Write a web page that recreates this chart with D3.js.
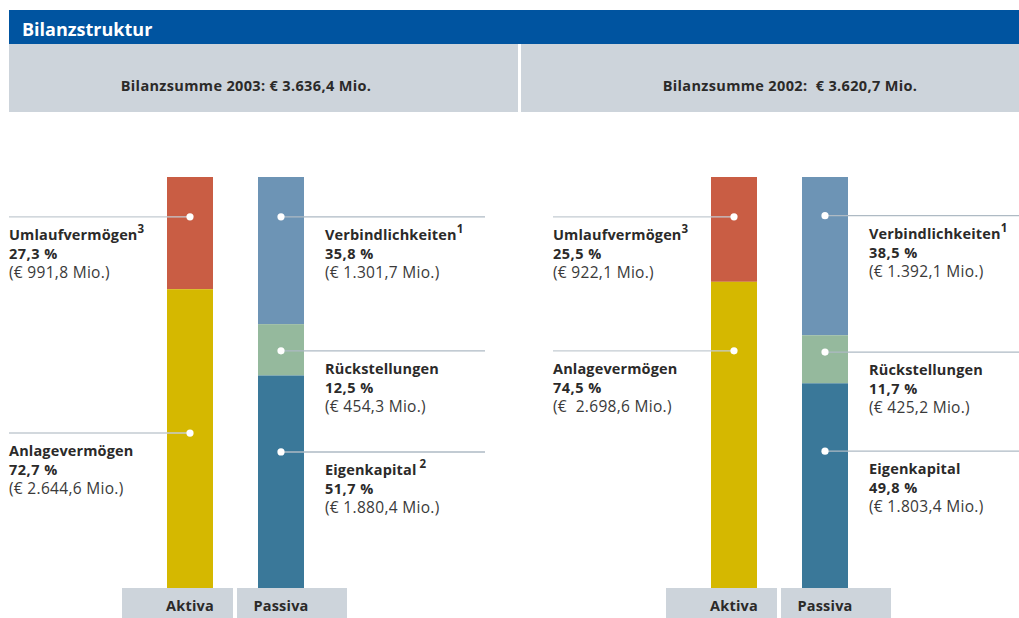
<!DOCTYPE html>
<html><head><meta charset="utf-8">
<script src="https://cdn.jsdelivr.net/npm/d3@7"></script>
<style>
html,body{margin:0;padding:0;background:#fff;}
svg text{font-family:"Open Sans",sans-serif;white-space:pre;}
</style></head>
<body><svg id="c" width="1019" height="618"></svg>
<script>
// ---- data ----
const title = "Bilanzstruktur";
const years = ["2003", "2002"];
const totalLabels = ["Bilanzsumme 2003: € 3.636,4 Mio.", "Bilanzsumme 2002:  € 3.620,7 Mio."];
const sideLabels = ["Aktiva", "Passiva"];

const aktivaNames = ["Umlaufvermögen", "Anlagevermögen"];
const passivaNames = ["Verbindlichkeiten", "Rückstellungen", "Eigenkapital"];

const aktivaPct2003 = [27.3, 72.7];
const aktivaVal2003 = ["€ 991,8 Mio.", "€ 2.644,6 Mio."];
const aktivaNote2003 = ["3", ""];
const passivaPct2003 = [35.8, 12.5, 51.7];
const passivaVal2003 = ["€ 1.301,7 Mio.", "€ 454,3 Mio.", "€ 1.880,4 Mio."];
const passivaNote2003 = ["1", "", " 2"];

const aktivaPct2002 = [25.5, 74.5];
const aktivaVal2002 = ["€ 922,1 Mio.", "€  2.698,6 Mio."];
const aktivaNote2002 = ["3", ""];
const passivaPct2002 = [38.5, 11.7, 49.8];
const passivaVal2002 = ["€ 1.392,1 Mio.", "€ 425,2 Mio.", "€ 1.803,4 Mio."];
const passivaNote2002 = ["1", "", ""];

// leader-dot anchor, in percent measured from top of the column
const aktivaDot2003 = [9.7, 62.3];
const passivaDot2003 = [9.7, 42.3, 66.9];
const aktivaDot2002 = [9.7, 42.3];
const passivaDot2002 = [9.4, 42.6, 66.7];

const aktivaColors = ["#C95D44", "#D5B800"];
const passivaColors = ["#6D94B5", "#95B99D", "#3A7899"];

// ---- layout ----
const svg = d3.select("#c");
const W = 1019, H = 618;
const panels = [
  {pct: [aktivaPct2003, passivaPct2003], val: [aktivaVal2003, passivaVal2003], note: [aktivaNote2003, passivaNote2003], dot: [aktivaDot2003, passivaDot2003]},
  {pct: [aktivaPct2002, passivaPct2002], val: [aktivaVal2002, passivaVal2002], note: [aktivaNote2002, passivaNote2002], dot: [aktivaDot2002, passivaDot2002]}
];
const panelOffset = [0, 544];
const y = d3.scaleLinear().domain([0, 100]).range([177, 588]); // percent from top
const barX = [167, 258], barW = 46;
const textCol = "#2b2a29";
const loc = d3.formatLocale({decimal: ",", thousands: ".", grouping: [3], currency: ["€", ""]});
const fmtPct = d => loc.format(".1f")(d) + " %";

// header
svg.append("rect").attr("x", 9).attr("y", 10).attr("width", W - 9).attr("height", 34).attr("fill", "#0054A0");
svg.append("text").attr("x", 22).attr("y", 36).attr("fill", "#fff").attr("font-size", 18).attr("font-weight", 700).text(title);

const subRects = [[9, 509], [521, 498]];
const subTextX = [246, 790];
subRects.forEach((r, i) => {
  svg.append("rect").attr("x", r[0]).attr("y", 44).attr("width", r[1]).attr("height", 68).attr("fill", "#CDD4DB");
  svg.append("text").attr("x", subTextX[i]).attr("y", 91).attr("text-anchor", "middle")
    .attr("font-size", 14.5).attr("font-weight", 700).attr("letter-spacing", 0.35).attr("fill", textCol).text(totalLabels[i]);
});

panels.forEach((p, pi) => {
  const off = panelOffset[pi];
  const g = svg.append("g").attr("transform", `translate(${off},0)`);
  [0, 1].forEach(side => {
    const pcts = p.pct[side];
    const colors = side === 0 ? aktivaColors : passivaColors;
    const stack = d3.cumsum(pcts);
    const segs = pcts.map((v, i) => ({v, y0: i === 0 ? 0 : stack[i - 1], y1: stack[i], c: colors[i]}));
    g.selectAll(null).data(segs).enter().append("rect")
      .attr("x", barX[side]).attr("width", barW)
      .attr("y", d => y(d.y0)).attr("height", d => y(Math.min(d.y1, 100)) - y(d.y0))
      .attr("fill", d => d.c);
  });
  // leader lines, dots, labels
  [0, 1].forEach(side => {
    const pcts = p.pct[side];
    const names = side === 0 ? aktivaNames : passivaNames;
    const cx = barX[side] + barW / 2;
    pcts.forEach((v, i) => {
      const dy = y(p.dot[side][i]);
      const x1 = side === 0 ? 9 : cx, x2 = side === 0 ? cx : 485;
      g.append("line").attr("x1", x1).attr("x2", x2).attr("y1", dy).attr("y2", dy)
        .attr("stroke", side === 0 ? "#C3CBD2" : "#AEBAC4").attr("stroke-width", 1.4);
      g.append("circle").attr("cx", cx).attr("cy", dy).attr("r", 3.6).attr("fill", "#fff");
      const tx = side === 0 ? 9 : 325;
      const t1 = g.append("text").attr("x", tx).attr("y", dy + 23).attr("font-size", 14.5).attr("font-weight", 700).attr("letter-spacing", 0.15).attr("fill", textCol);
      t1.append("tspan").text(names[i]);
      if (p.note[side][i]) t1.append("tspan").attr("dy", -7).attr("font-size", 11.5).text(p.note[side][i]);
      g.append("text").attr("x", tx).attr("y", dy + 42).attr("font-size", 14.5).attr("font-weight", 700).attr("letter-spacing", 0.5).attr("fill", textCol).text(fmtPct(v));
      g.append("text").attr("x", tx).attr("y", dy + 61).attr("font-size", 15.5).attr("letter-spacing", 0.3).attr("fill", "#3a3a3a").text("(" + p.val[side][i] + ")");
    });
  });
  // bottom boxes
  const boxes = [[122, 111], [237, 110]];
  boxes.forEach((b, k) => {
    g.append("rect").attr("x", b[0]).attr("y", 588).attr("width", b[1]).attr("height", 30).attr("fill", "#CDD4DB");
    g.append("text").attr("x", barX[k] + barW / 2).attr("y", 611).attr("text-anchor", "middle")
      .attr("font-size", 14.5).attr("font-weight", 700).attr("letter-spacing", 0.2).attr("fill", textCol).text(sideLabels[k]);
  });
});
</script></body></html>
